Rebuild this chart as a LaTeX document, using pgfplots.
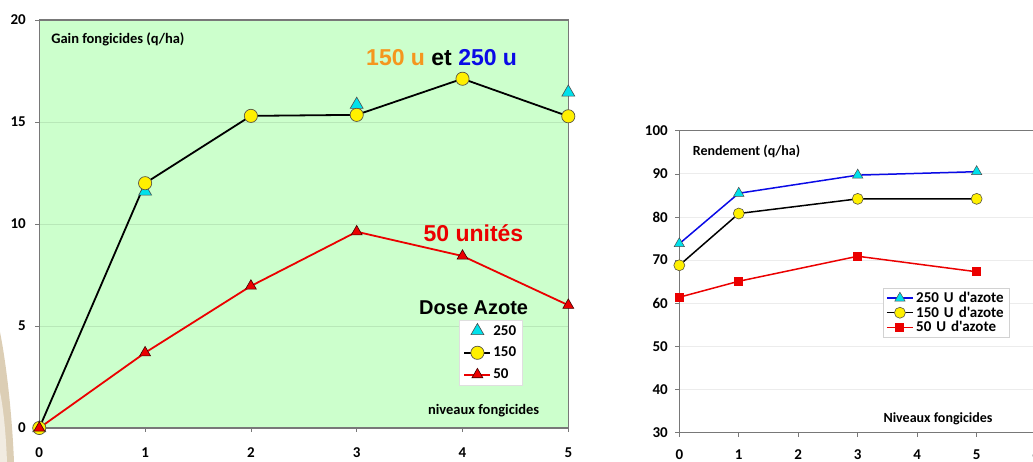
\documentclass[border=0pt]{standalone}
\usepackage{fontspec}
\setmainfont{Carlito}[Ligatures=TeXOff]
\newfontfamily\arialf{Liberation Sans}
\usepackage{pgfplots}
\pgfplotsset{compat=1.18}
\definecolor{bggreen}{RGB}{204,255,204}
\definecolor{gridgreen}{RGB}{184,232,184}
\definecolor{framegray}{RGB}{120,120,120}
\definecolor{mcyan}{RGB}{0,225,235}
\definecolor{myellow}{RGB}{255,240,0}
\definecolor{morange}{RGB}{245,150,30}
\definecolor{mblue}{RGB}{10,10,230}
\definecolor{mred}{RGB}{235,0,0}
\definecolor{tan}{RGB}{205,185,150}

\pgfplotsset{
  slide/.style={
    scale only axis, clip=false,
    /pgf/number format/assume math mode=true,
    ticklabel style={font=\bfseries\fontsize{15}{15}\selectfont},
    tick align=outside, major tick length=4pt,
    tick style={framegray, line width=0.6pt},
    axis line style={framegray, line width=1.3pt},
    ymajorgrids,
    xtick pos=bottom, ytick pos=left,
  }
}

\begin{document}
\begin{tikzpicture}
\path[use as bounding box] (0pt,0pt) rectangle (1033pt,462pt);
% bord decoratif de la diapositive
\fill[tan, opacity=0.7] (0pt,0pt) -- (0pt,130pt) .. controls (6pt,100pt) and (12pt,50pt) .. (14pt,0pt) -- cycle;
\fill[white, opacity=0.6] (0pt,0pt) -- (0pt,70pt) .. controls (4pt,50pt) and (6pt,25pt) .. (7pt,0pt) -- cycle;

% --- graphique de gauche : gain fongicides ---
\begin{axis}[slide,
  at={(39.3pt,34pt)}, anchor=south west,
  width=529pt, height=408pt,
  xmin=0, xmax=5, ymin=0, ymax=20,
  xtick={0,...,5}, ytick={0,5,...,20},
  axis background/.style={fill=bggreen},
  grid style={gridgreen, line width=0.8pt},
  yticklabel style={xshift=-6pt},
  xticklabel style={yshift=-12pt},
  legend style={at={(axis cs:3.97,5.29)}, anchor=north west,
    draw=gray!25, fill=white, inner xsep=4pt, inner ysep=3pt,
    font=\bfseries\fontsize{15}{15}\selectfont, row sep=6.5pt,
    legend cell align=left},
  legend image code/.code={
    \draw[mark repeat=2, mark phase=2, #1] plot coordinates {(0pt,0pt) (13pt,0pt) (26pt,0pt)};},
]
\addplot[only marks, mark=triangle*, mark size=7.5pt,
  mark options={fill=mcyan, draw=black!70, line width=0.6pt}]
  coordinates {(0,0) (1,11.6) (3,15.85) (5,16.45)};
\addlegendentry{250}
\addplot[black, line width=1.8pt, mark=*, mark size=6.6pt,
  mark options={fill=myellow, draw=black!75!yellow, line width=0.7pt}]
  coordinates {(0,0) (1,12.0) (2,15.3) (3,15.35) (4,17.12) (5,15.28)};
\addlegendentry{150}
\addplot[mred, line width=1.8pt, mark=triangle*, mark size=6.3pt,
  mark options={fill=mred, draw=black!75!red, line width=0.6pt}]
  coordinates {(0,0) (1,3.69) (2,6.96) (3,9.62) (4,8.43) (5,6.02)};
\addlegendentry{50}

\node[anchor=west, font=\bfseries\fontsize{14.5}{14.5}\selectfont] at (axis cs:0.08,19.07) {Gain fongicides (q/ha)};
\node[anchor=base west, inner sep=0pt, font=\arialf\bfseries\fontsize{23}{23}\selectfont]
  at (axis cs:3.088,17.79) {\textcolor{morange}{150 u} et \textcolor{mblue}{250 u}};
\node[anchor=base west, inner sep=0pt, text=mred, font=\arialf\bfseries\fontsize{23}{23}\selectfont]
  at (axis cs:3.63,9.13) {50 unités};
\node[anchor=base west, inner sep=0pt, font=\arialf\bfseries\fontsize{20}{20}\selectfont]
  at (axis cs:3.589,5.54) {Dose Azote};
\node[font=\bfseries\fontsize{14.5}{14.5}\selectfont] at (axis cs:4.20,0.833) {niveaux fongicides};
\end{axis}

% --- graphique de droite : rendement ---
\begin{axis}[slide,
  at={(679.3pt,29.3pt)}, anchor=south west,
  width=356.8pt, height=302pt,
  xmin=0, xmax=6, ymin=30, ymax=100,
  xtick={0,...,6}, ytick={30,40,...,100},
  grid style={gray!15, line width=0.8pt},
  yticklabel style={xshift=-4pt},
  xticklabel style={yshift=-9.5pt},
  legend style={at={(axis cs:3.425,63.54)}, anchor=north west,
    draw=gray!35, fill=white, inner xsep=3pt, inner ysep=2pt,
    font=\bfseries\fontsize{15}{15}\selectfont, row sep=-1.5pt,
    legend cell align=left,
    nodes={inner xsep=2.5pt, text width=88pt, align=left}},
  legend image code/.code={
    \draw[mark repeat=2, mark phase=2, #1] plot coordinates {(0pt,0pt) (13pt,0pt) (26pt,0pt)};},
]
\addplot[mblue, line width=1.5pt, mark=triangle*, mark size=6pt,
  mark options={fill=mcyan, draw=black!70, line width=0.5pt}]
  coordinates {(0,73.8) (1,85.5) (3,89.7) (5,90.5)};
\addlegendentry{250 U d'azote}
\addplot[black, line width=1.5pt, mark=*, mark size=5.5pt,
  mark options={fill=myellow, draw=black!75!yellow, line width=0.6pt}]
  coordinates {(0,68.8) (1,80.8) (3,84.2) (5,84.2)};
\addlegendentry{150 U d'azote}
\addplot[mred, line width=1.5pt, mark=square*, mark size=3.8pt,
  mark options={fill=mred, draw=mred}]
  coordinates {(0,61.4) (1,65.1) (3,70.9) (5,67.3)};
\addlegendentry{50 U d'azote}

\node[anchor=west, font=\bfseries\fontsize{14}{14}\selectfont] at (axis cs:0.168,95.3) {Rendement (q/ha)};
\node[anchor=west, font=\bfseries\fontsize{14}{14}\selectfont] at (axis cs:3.375,33.34) {Niveaux fongicides};
\end{axis}
\end{tikzpicture}
\end{document}
